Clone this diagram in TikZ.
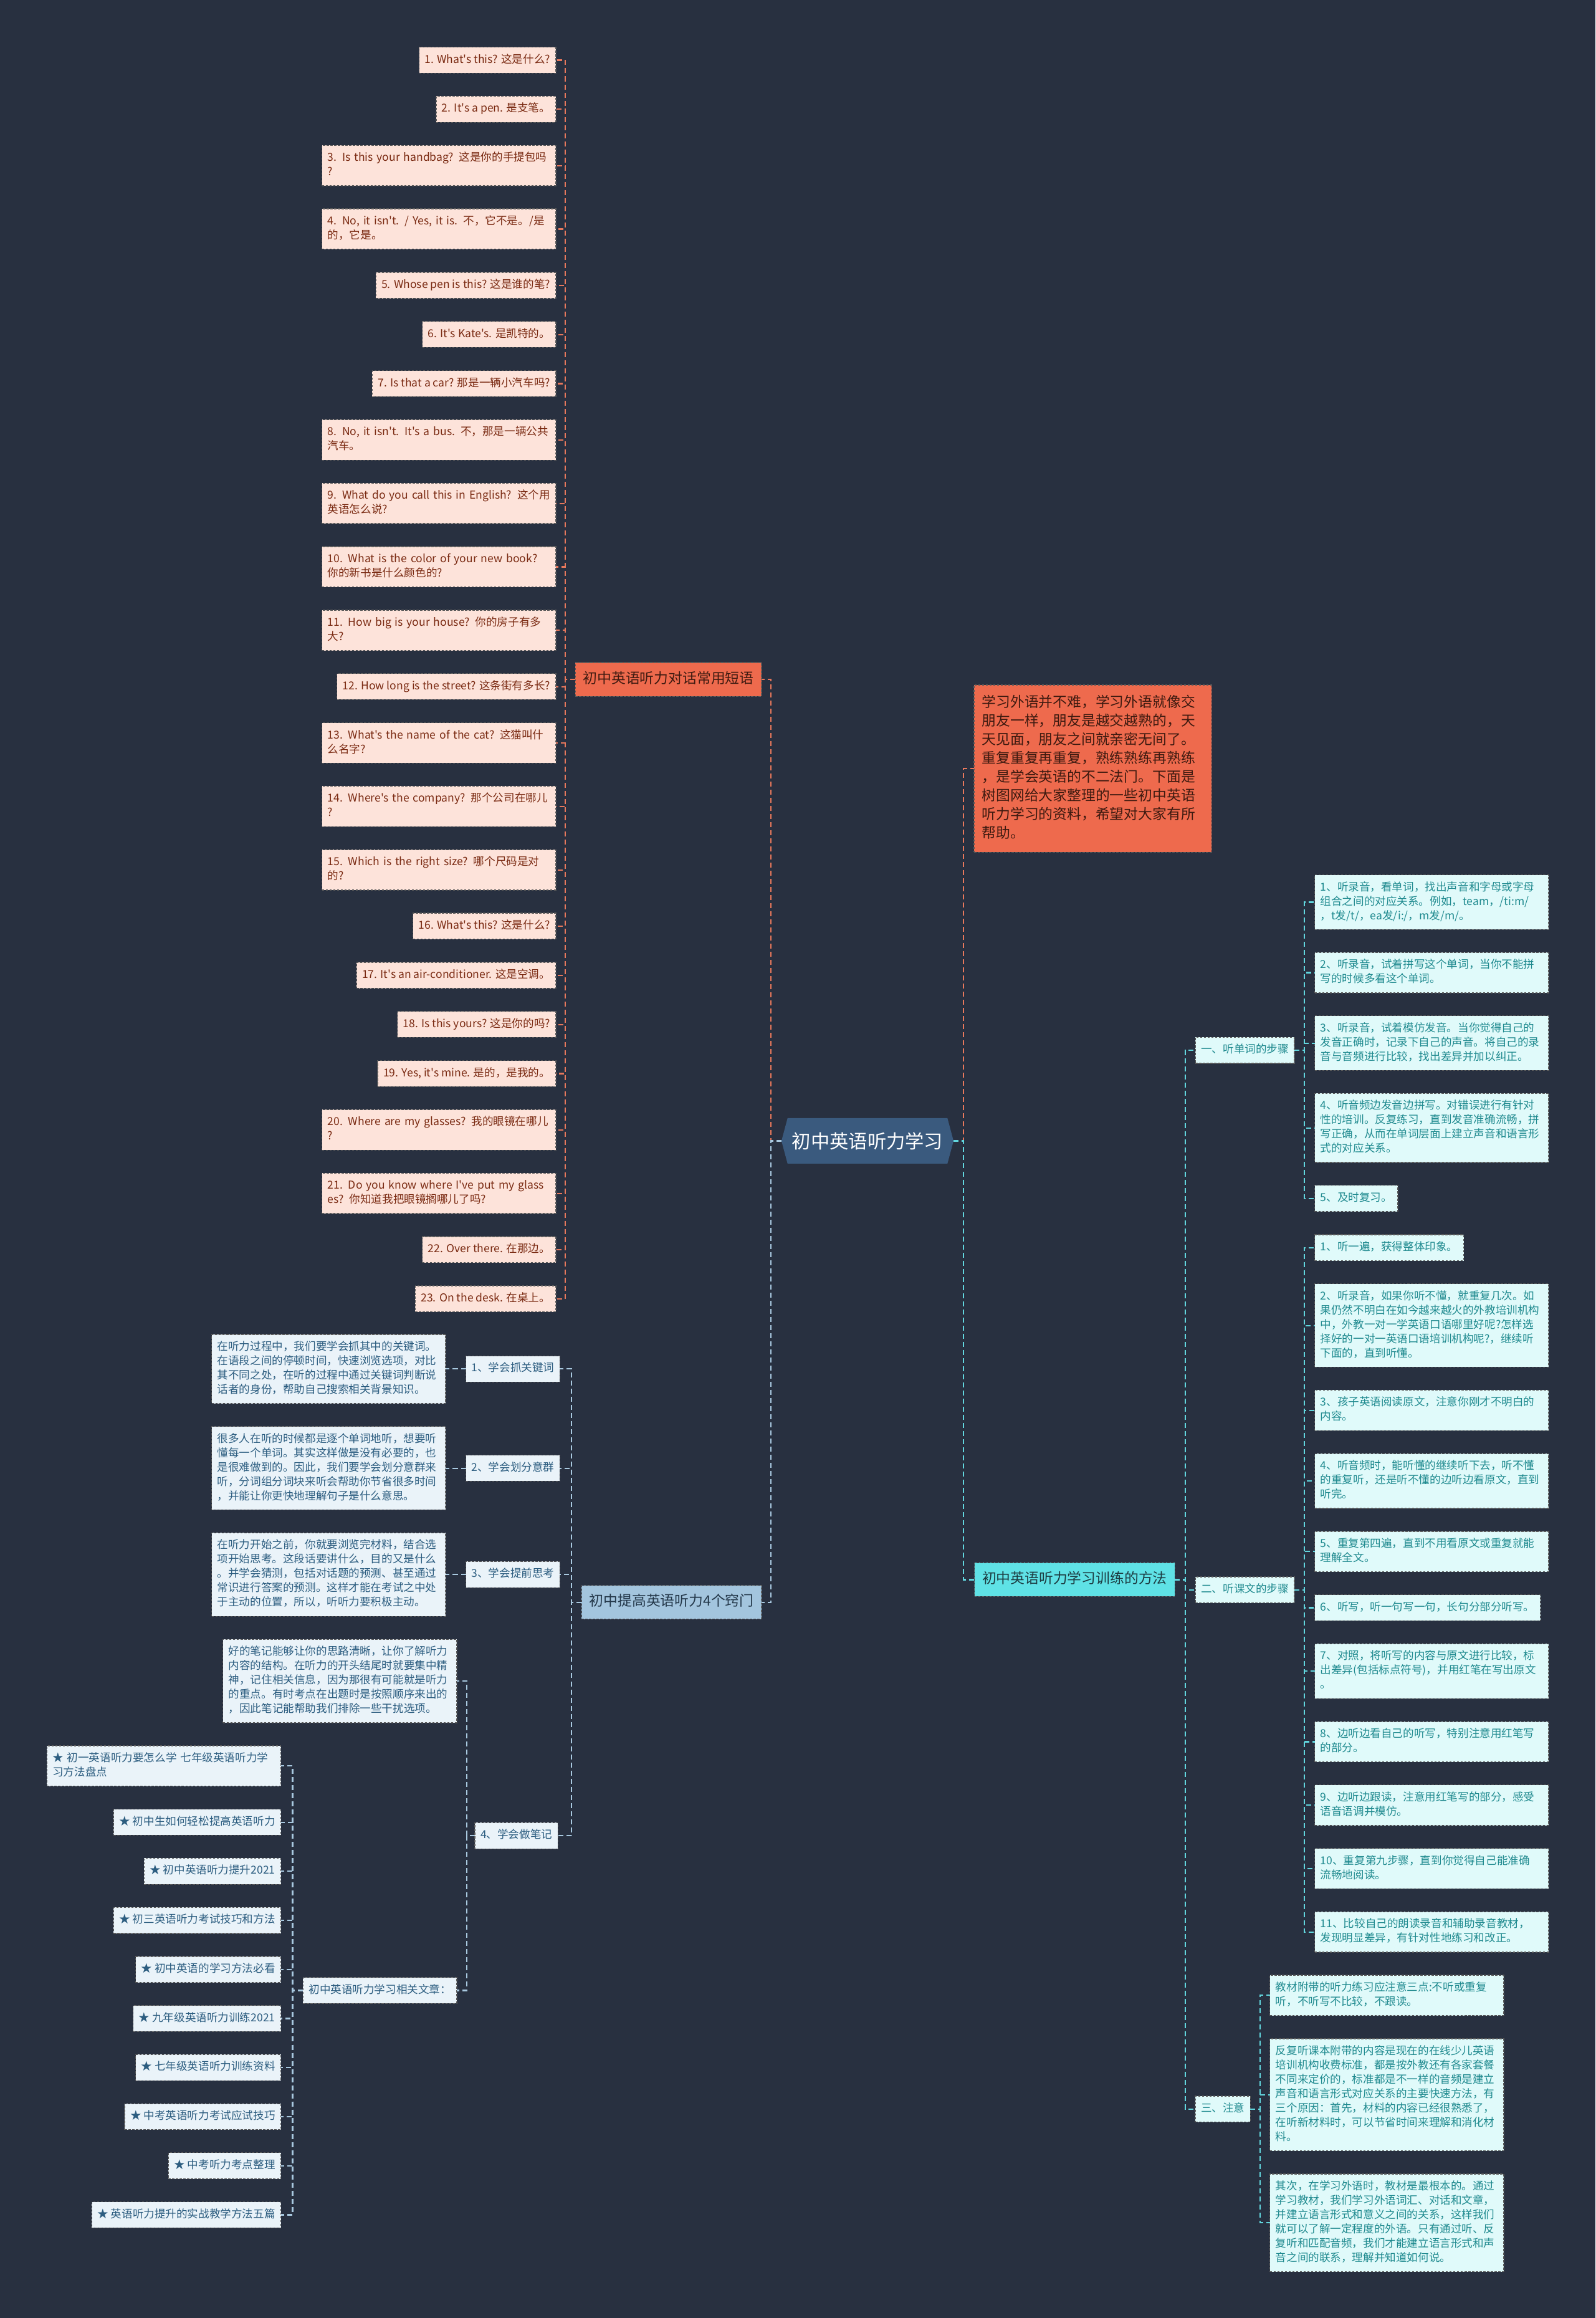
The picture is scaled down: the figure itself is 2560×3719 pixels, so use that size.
\documentclass[tikz,border=0pt]{standalone}
\usepackage{fontspec}
\newfontfamily\cjkfont{Noto Sans CJK SC}
\usepackage{xcolor}
\usetikzlibrary{positioning}
\usetikzlibrary{calc}
\usetikzlibrary{shapes.symbols}

\definecolor{navy}{HTML}{283040}
\definecolor{coral}{HTML}{EE6A4D}
\definecolor{coralline}{HTML}{E8785C}
\definecolor{peach}{HTML}{FDE3DA}
\definecolor{brick}{HTML}{7A2A12}
\definecolor{cocoa}{HTML}{3E1A10}
\definecolor{rootblue}{HTML}{3A5A7E}
\definecolor{sky}{HTML}{A3C5DE}
\definecolor{icy}{HTML}{EAF3F9}
\definecolor{steel}{HTML}{2C5D80}
\definecolor{slate}{HTML}{24384A}
\definecolor{haze}{HTML}{A9C9E0}
\definecolor{aqua}{HTML}{5FE2E6}
\definecolor{mint}{HTML}{E0FAFA}
\definecolor{tealtext}{HTML}{1F8A8F}
\definecolor{abyss}{HTML}{1C3A40}
\definecolor{cyanline}{HTML}{62D6DE}
\definecolor{boxline}{HTML}{5A5A5A}

\newcommand\leaffont{\cjkfont\fontsize{5pt}{6.54pt}\selectfont}
\newcommand\branchfont{\cjkfont\fontsize{6.49pt}{8.54pt}\selectfont}
\newcommand\rootfont{\cjkfont\fontsize{8.62pt}{11.38pt}\selectfont}

\tikzset{
  link/.style={line width=0.022cm, dash pattern=on 0.08cm off 0.05cm},
  linkA/.style={link, draw=coralline},
  linkB/.style={link, draw=haze},
  linkC/.style={link, draw=cyanline},
  card/.style={rectangle, draw=boxline, line width=0.012cm, dash pattern=on 0.035cm off 0.025cm,
    outer sep=0pt, execute at begin node=\strut, execute at end node=\strut},
  leaf/.style={card, font=\leaffont, inner xsep=0.09cm, inner ysep=0.0935cm},
  wide/.style={text width=3.57cm, align=left},
  phrase/.style={leaf, fill=peach, text=brick},
  knack/.style={leaf, fill=icy, text=steel},
  drill/.style={leaf, fill=mint, text=tealtext},
  branch/.style={card, font=\branchfont, inner xsep=0.125cm, inner ysep=0.12cm},
  phrasehead/.style={branch, fill=coral, text=cocoa},
  knackhead/.style={branch, fill=sky, text=slate},
  drillhead/.style={branch, fill=aqua, text=abyss},
  intro/.style={branch, fill=coral, text=cocoa, text width=3.56cm, align=left, inner ysep=0.14cm},
  root/.style={shape=signal, signal to=east and west, signal pointer angle=150, fill=rootblue,
    text=white, font=\rootfont, minimum height=0.73cm, inner xsep=0.07cm, outer sep=0pt}
}

\begin{document}
\begin{tikzpicture}[x=0.01cm, y=-0.01cm]

  \useasboundingbox (0,0) rectangle (2560,3719);
  \fill[navy] (0,0) rectangle (2560,3719);

  % Define nodes
  \node[phrase, anchor=north east] (p1) at (892,75.6) {1. What's this? 这是什么?};
  \node[phrase, below=3.71mm of p1.south east, anchor=north east] (p2) {2. It's a pen. 是支笔。};
  \node[phrase, wide, below=3.71mm of p2.south east, anchor=north east] (p3) {3. Is this your handbag? 这是你的手提包吗\\?};
  \node[phrase, wide, below=3.71mm of p3.south east, anchor=north east] (p4) {4. No, it isn't. / Yes, it is. 不，它不是。/是\\的，它是。};
  \node[phrase, below=3.71mm of p4.south east, anchor=north east] (p5) {5. Whose pen is this? 这是谁的笔?};
  \node[phrase, below=3.71mm of p5.south east, anchor=north east] (p6) {6. It's Kate's. 是凯特的。};
  \node[phrase, below=3.71mm of p6.south east, anchor=north east] (p7) {7. Is that a car? 那是一辆小汽车吗?};
  \node[phrase, wide, below=3.71mm of p7.south east, anchor=north east] (p8) {8. No, it isn't. It's a bus. 不，那是一辆公共\\汽车。};
  \node[phrase, wide, below=3.71mm of p8.south east, anchor=north east] (p9) {9. What do you call this in English? 这个用\\英语怎么说?};
  \node[phrase, wide, below=3.71mm of p9.south east, anchor=north east] (p10) {10. What is the color of your new book?\\你的新书是什么颜色的?};
  \node[phrase, wide, below=3.71mm of p10.south east, anchor=north east] (p11) {11. How big is your house? 你的房子有多\\大?};
  \node[phrase, below=3.71mm of p11.south east, anchor=north east] (p12) {12. How long is the street? 这条街有多长?};
  \node[phrase, wide, below=3.71mm of p12.south east, anchor=north east] (p13) {13. What's the name of the cat? 这猫叫什\\么名字?};
  \node[phrase, wide, below=3.71mm of p13.south east, anchor=north east] (p14) {14. Where's the company? 那个公司在哪儿\\?};
  \node[phrase, wide, below=3.71mm of p14.south east, anchor=north east] (p15) {15. Which is the right size? 哪个尺码是对\\的?};
  \node[phrase, below=3.71mm of p15.south east, anchor=north east] (p16) {16. What's this? 这是什么?};
  \node[phrase, below=3.71mm of p16.south east, anchor=north east] (p17) {17. It's an air-conditioner. 这是空调。};
  \node[phrase, below=3.71mm of p17.south east, anchor=north east] (p18) {18. Is this yours? 这是你的吗?};
  \node[phrase, below=3.71mm of p18.south east, anchor=north east] (p19) {19. Yes, it's mine. 是的，是我的。};
  \node[phrase, wide, below=3.71mm of p19.south east, anchor=north east] (p20) {20. Where are my glasses? 我的眼镜在哪儿\\?};
  \node[phrase, wide, below=3.71mm of p20.south east, anchor=north east] (p21) {21. Do you know where I've put my glass\\es? 你知道我把眼镜搁哪儿了吗?};
  \node[phrase, below=3.71mm of p21.south east, anchor=north east] (p22) {22. Over there. 在那边。};
  \node[phrase, below=3.71mm of p22.south east, anchor=north east] (p23) {23. On the desk. 在桌上。};

  \node[phrasehead, anchor=east] (phr) at ($(p1.east)!.5!(p23.east)+(330,0)$) {初中英语听力对话常用短语};

  \node[knack, wide, anchor=north east] (l1) at (715,2141) {在听力过程中，我们要学会抓其中的关键词。\\在语段之间的停顿时间，快速浏览选项，对比\\其不同之处，在听的过程中通过关键词判断说\\话者的身份，帮助自己搜索相关背景知识。};
  \node[knack, wide, below=3.7mm of l1.south east, anchor=north east] (l2) {很多人在听的时候都是逐个单词地听，想要听\\懂每一个单词。其实这样做是没有必要的，也\\是很难做到的。因此，我们要学会划分意群来\\听，分词组分词块来听会帮助你节省很多时间\\，并能让你更快地理解句子是什么意思。};
  \node[knack, wide, below=3.7mm of l2.south east, anchor=north east] (l3) {在听力开始之前，你就要浏览完材料，结合选\\项开始思考。这段话要讲什么，目的又是什么\\。并学会猜测，包括对话题的预测、甚至通过\\常识进行答案的预测。这样才能在考试之中处\\于主动的位置，所以，听听力要积极主动。};
  \node[knack, wide, below=3.7mm of l3.south east, anchor=north east, xshift=1.8mm] (l4) {好的笔记能够让你的思路清晰，让你了解听力\\内容的结构。在听力的开头结尾时就要集中精\\神，记住相关信息，因为那很有可能就是听力\\的重点。有时考点在出题时是按照顺序来出的\\，因此笔记能帮助我们排除一些干扰选项。};

  \node[knack, wide, anchor=north east] (s1) at (450.6,2801) {★ 初一英语听力要怎么学 七年级英语听力学\\习方法盘点};
  \node[knack, below=3.7mm of s1.south east, anchor=north east] (s2) {★ 初中生如何轻松提高英语听力};
  \node[knack, below=3.7mm of s2.south east, anchor=north east] (s3) {★ 初中英语听力提升2021};
  \node[knack, below=3.7mm of s3.south east, anchor=north east] (s4) {★ 初三英语听力考试技巧和方法};
  \node[knack, below=3.7mm of s4.south east, anchor=north east] (s5) {★ 初中英语的学习方法必看};
  \node[knack, below=3.7mm of s5.south east, anchor=north east] (s6) {★ 九年级英语听力训练2021};
  \node[knack, below=3.7mm of s6.south east, anchor=north east] (s7) {★ 七年级英语听力训练资料};
  \node[knack, below=3.7mm of s7.south east, anchor=north east] (s8) {★ 中考英语听力考试应试技巧};
  \node[knack, below=3.7mm of s8.south east, anchor=north east] (s9) {★ 中考听力考点整理};
  \node[knack, below=3.7mm of s9.south east, anchor=north east] (s10) {★ 英语听力提升的实战教学方法五篇};

  \node[knack, anchor=east] (rel) at ($(s1.east)!.5!(s10.east)+(282.4,0)$) {初中英语听力学习相关文章：};

  \node[knack, anchor=west] (k1) at ($(l1.east)+(32.5,0)$) {1、学会抓关键词};
  \node[knack, anchor=west] (k2) at ($(l2.east)+(32.5,0)$) {2、学会划分意群};
  \node[knack, anchor=west] (k3) at ($(l3.east)+(32.5,0)$) {3、学会提前思考};
  \node[knack, anchor=west] (k4) at ($(l4.east)!.5!(rel.east)+(29,0)$) {4、学会做笔记};

  \node[knackhead, anchor=east] (knk) at ($(k1.west)!.5!(k4.west)+(467.25,0)$) {初中提高英语听力4个窍门};

  \node[root] (root) at ($(phr.east)!.5!(knk.east)+(170,0)$) {初中英语听力学习};

  \node[intro, anchor=north west] (intro) at (1563,1099) {学习外语并不难，学习外语就像交\\朋友一样，朋友是越交越熟的，天\\天见面，朋友之间就亲密无间了。\\重复重复再重复，熟练熟练再熟练\\，是学会英语的不二法门。下面是\\树图网给大家整理的一些初中英语\\听力学习的资料，希望对大家有所\\帮助。};

  \node[drill, wide, anchor=north west] (w1) at (2109.7,1403.7) {1、听录音，看单词，找出声音和字母或字母\\组合之间的对应关系。例如，team，/ti:m/\\，t发/t/，ea发/i:/，m发/m/。};
  \node[drill, wide, below=3.68mm of w1.south west, anchor=north west] (w2) {2、听录音，试着拼写这个单词，当你不能拼\\写的时候多看这个单词。};
  \node[drill, wide, below=3.68mm of w2.south west, anchor=north west] (w3) {3、听录音，试着模仿发音。当你觉得自己的\\发音正确时，记录下自己的声音。将自己的录\\音与音频进行比较，找出差异并加以纠正。};
  \node[drill, wide, below=3.68mm of w3.south west, anchor=north west] (w4) {4、听音频边发音边拼写。对错误进行有针对\\性的培训。反复练习，直到发音准确流畅，拼\\写正确，从而在单词层面上建立声音和语言形\\式的对应关系。};
  \node[drill, below=3.68mm of w4.south west, anchor=north west] (w5) {5、及时复习。};

  \node[drill, anchor=north west] (t1) at (2109.7,1981) {1、听一遍，获得整体印象。};
  \node[drill, wide, below=3.7mm of t1.south west, anchor=north west] (t2) {2、听录音，如果你听不懂，就重复几次。如\\果仍然不明白在如今越来越火的外教培训机构\\中，外教一对一学英语口语哪里好呢?怎样选\\择好的一对一英语口语培训机构呢?，继续听\\下面的，直到听懂。};
  \node[drill, wide, below=3.7mm of t2.south west, anchor=north west] (t3) {3、孩子英语阅读原文，注意你刚才不明白的\\内容。};
  \node[drill, wide, below=3.7mm of t3.south west, anchor=north west] (t4) {4、听音频时，能听懂的继续听下去，听不懂\\的重复听，还是听不懂的边听边看原文，直到\\听完。};
  \node[drill, wide, below=3.7mm of t4.south west, anchor=north west] (t5) {5、重复第四遍，直到不用看原文或重复就能\\理解全文。};
  \node[drill, below=3.7mm of t5.south west, anchor=north west] (t6) {6、听写，听一句写一句，长句分部分听写。};
  \node[drill, wide, below=3.7mm of t6.south west, anchor=north west] (t7) {7、对照，将听写的内容与原文进行比较，标\\出差异(包括标点符号)，并用红笔在写出原文\\。};
  \node[drill, wide, below=3.7mm of t7.south west, anchor=north west] (t8) {8、边听边看自己的听写，特别注意用红笔写\\的部分。};
  \node[drill, wide, below=3.7mm of t8.south west, anchor=north west] (t9) {9、边听边跟读，注意用红笔写的部分，感受\\语音语调并模仿。};
  \node[drill, wide, below=3.7mm of t9.south west, anchor=north west] (t10) {10、重复第九步骤，直到你觉得自己能准确\\流畅地阅读。};
  \node[drill, wide, below=3.7mm of t10.south west, anchor=north west] (t11) {11、比较自己的朗读录音和辅助录音教材，\\发现明显差异，有针对性地练习和改正。};

  \node[drill, wide, anchor=north west] (n1) at (2037.8,3169) {教材附带的听力练习应注意三点:不听或重复\\听，不听写不比较，不跟读。};
  \node[drill, wide, below=3.72mm of n1.south west, anchor=north west] (n2) {反复听课本附带的内容是现在的在线少儿英语\\培训机构收费标准，都是按外教还有各家套餐\\不同来定价的，标准都是不一样的音频是建立\\声音和语言形式对应关系的主要快速方法，有\\三个原因：首先，材料的内容已经很熟悉了，\\在听新材料时，可以节省时间来理解和消化材\\料。};
  \node[drill, wide, below=3.72mm of n2.south west, anchor=north west] (n3) {其次，在学习外语时，教材是最根本的。通过\\学习教材，我们学习外语词汇、对话和文章，\\并建立语言形式和意义之间的关系，这样我们\\就可以了解一定程度的外语。只有通过听、反\\复听和匹配音频，我们才能建立语言形式和声\\音之间的联系，理解并知道如何说。};

  \node[drill, anchor=east] (c1) at ($(w1.west)!.5!(w5.west)+(-32.7,0)$) {一、听单词的步骤};
  \node[drill, anchor=east] (c2) at ($(t1.west)!.5!(t11.west)+(-32.7,0)$) {二、听课文的步骤};
  \node[drill, anchor=east] (c3) at ($(n1.west)!.5!(n3.west)+(-31.4,0)$) {三、注意};

  \node[drillhead, anchor=east] (meth) at ($(c1.west)!.5!(c3.west)+(-33,0)$) {初中英语听力学习训练的方法};

  % Connect nodes
  \draw[linkA] (root.west) -- ++(-17,0) |- (phr.east);
  \draw[linkB] (root.west) -- ++(-17,0) |- (knk.east);
  \draw[linkA] (root.east) -- ++(16,0) |- (intro.west);
  \draw[linkC] (root.east) -- ++(16,0) |- (meth.west);

  \foreach \i in {1,...,23} \draw[linkA] (phr.west) -- ++(-16,0) |- (p\i.east);

  \foreach \i in {1,...,4} \draw[linkB] (knk.west) -- ++(-16.4,0) |- (k\i.east);
  \foreach \i in {1,2,3} \draw[linkB] (k\i.west) -- (l\i.east);
  \draw[linkB] (k4.west) -- ++(-13,0) |- (l4.east);
  \draw[linkB] (k4.west) -- ++(-13,0) |- (rel.east);
  \foreach \i in {1,...,10} \draw[linkB] (rel.west) -- ++(-17,0) |- (s\i.east);

  \foreach \i in {1,2,3} \draw[linkC] (meth.east) -- ++(17,0) |- (c\i.west);
  \foreach \i in {1,...,5} \draw[linkC] (c1.east) -- ++(16,0) |- (w\i.west);
  \foreach \i in {1,...,11} \draw[linkC] (c2.east) -- ++(16,0) |- (t\i.west);
  \foreach \i in {1,2,3} \draw[linkC] (c3.east) -- ++(15.7,0) |- (n\i.west);

\end{tikzpicture}
\end{document}
